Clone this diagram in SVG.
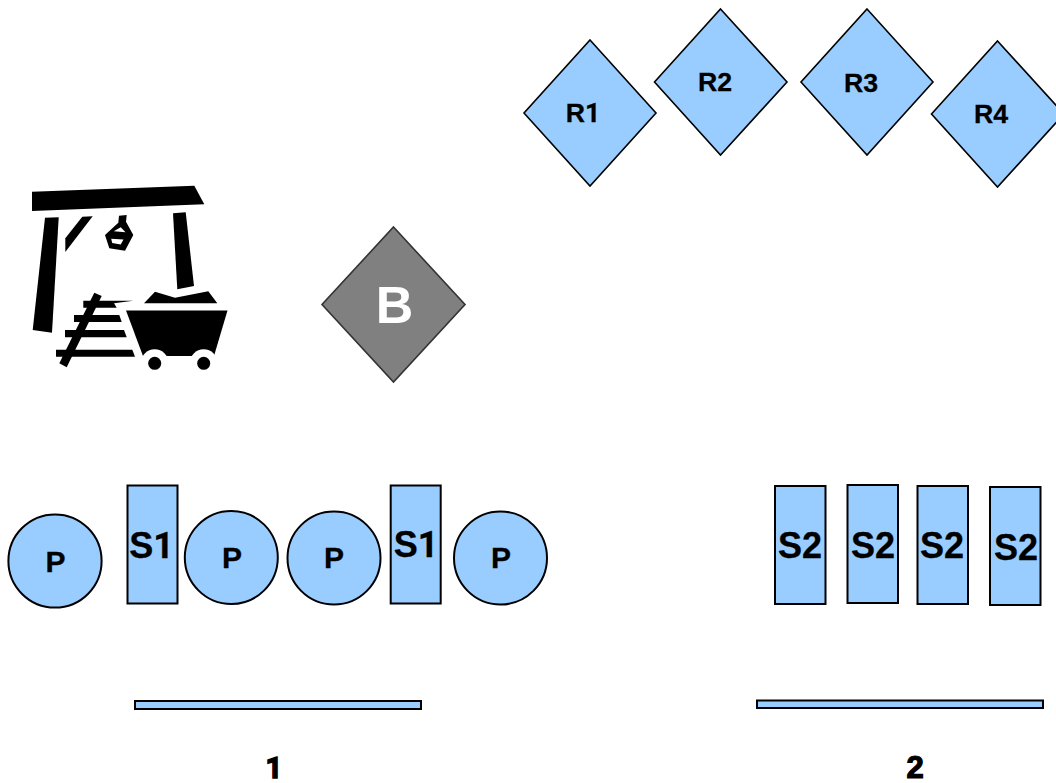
<svg xmlns="http://www.w3.org/2000/svg" width="1056" height="783" viewBox="0 0 1056 783">
<style>
text{font-family:"Liberation Sans",Arial,sans-serif;font-weight:bold;text-anchor:middle;fill:#000;stroke:#000;stroke-width:.3}
tspan.a{font-family:Roboto,"Liberation Sans",sans-serif}
.n{fill:#99ccff;stroke:#000;stroke-width:2}
.d{fill:#99ccff;stroke:#000;stroke-width:1.6}
.r{font-size:26.7px}
.p{font-size:30px}
.s{font-size:36px}
.l{font-size:31px;stroke-width:1.200px}
text.o{font-family:Roboto,"Liberation Sans",sans-serif;font-size:29.500px;stroke-width:1.400px}
.w{font-size:52px;fill:#fff;stroke:none}
</style>
<rect width="1056" height="783" fill="#fff"/>
<g id="R1"><polygon class="d" points="590,40 656,113 590,186 524,113"/><text class="r" x="583" y="122">R<tspan class="a">1</tspan></text></g>
<g id="R2"><polygon class="d" points="720.5,9 787,82 720.5,155 654.5,82"/><text class="r" x="715" y="91">R2</text></g>
<g id="R3"><polygon class="d" points="867,9 933,82 867,155 801,82"/><text class="r" x="861" y="92">R3</text></g>
<g id="R4"><polygon class="d" points="997.500,41 1064,114 997.500,187 931.500,114"/><text class="r" x="991" y="123">R4</text></g>
<g id="mine" fill="#000">
<polygon points="32,191.700 194.300,185.700 204.300,204.300 32,211"/>
<polygon points="45,217.700 58.700,217.300 52,332.700 32.700,330"/>
<polygon points="82.300,216.700 92.700,216.300 65.300,252 65.300,238.300"/>
<polygon points="173,213.300 185.700,212.300 194,286 177.300,289.300"/>
<path fill-rule="evenodd" d="M119 215.700L126.700 215L126 221.700L133.300 235L125 250.700L109.300 248.300L105 235L118.300 222.700ZM113.800 231.200L120.700 227.200L125.500 232.200ZM111.200 238.800L123.500 239.500L120.700 244.500L112.200 243Z"/>
<polygon points="83.300,300.700 133.300,300.700 114,303.300 116.700,307.700 83.300,307.700"/>
<polygon points="74,315 119.300,315 121.700,322 74,322"/>
<polygon points="65,330 124,330 126.700,337.300 65,337.300"/>
<polygon points="56,349.700 132.300,349.700 135,356.700 56,356.700"/>
<polygon points="94.300,292.700 101.700,296 66.700,367.300 59.300,363.300"/>
<polygon points="144,303.300 155,291.700 175,297.700 208.300,291.300 217.300,303.300"/>
<polygon points="126,310.500 227.500,310.500 214,356 143,356"/>
<circle cx="154.700" cy="363.300" r="14" fill="#fff"/>
<circle cx="203.700" cy="363.300" r="14" fill="#fff"/>
<circle cx="154.700" cy="363.300" r="6.500"/>
<circle cx="203.700" cy="363.300" r="6.500"/>
</g>
<g id="B"><polygon points="393.500,227 465,304.500 393.500,382 322,304.500" fill="#808080" stroke="#333" stroke-width="1.600"/><text class="w" x="394.500" y="322.700">B</text></g>
<g id="P1"><circle class="n" cx="55" cy="561" r="46.600"/><text class="p" x="55.500" y="571.700">P</text></g>
<g id="S1a"><rect class="n" x="127.500" y="485.500" width="50" height="118"/><text class="s" x="151.500" y="557.700">S<tspan class="a">1</tspan></text></g>
<g id="P2"><circle class="n" cx="231.300" cy="557.500" r="46.500"/><text class="p" x="232" y="567.700">P</text></g>
<g id="P3"><circle class="n" cx="334" cy="558" r="46.500"/><text class="p" x="334" y="568">P</text></g>
<g id="S1b"><rect class="n" x="390.700" y="485.500" width="50" height="118"/><text class="s" x="416" y="557">S<tspan class="a">1</tspan></text></g>
<g id="P4"><circle class="n" cx="500.500" cy="558" r="46.500"/><text class="p" x="501" y="568">P</text></g>
<g id="S2a"><rect class="n" x="775" y="486" width="50.500" height="118"/><text class="s" x="800" y="558">S2</text></g>
<g id="S2b"><rect class="n" x="847.500" y="485" width="50.500" height="118"/><text class="s" x="873" y="557.700">S2</text></g>
<g id="S2c"><rect class="n" x="917.500" y="486" width="50.500" height="118"/><text class="s" x="942" y="558">S2</text></g>
<g id="S2d"><rect class="n" x="990" y="487" width="50.500" height="118"/><text class="s" x="1016" y="560">S2</text></g>
<g id="bar1"><rect class="n" x="135" y="701" width="286" height="8"/></g>
<g id="bar2"><rect class="n" x="757" y="700.500" width="286" height="7.500"/></g>
<g id="label1"><text class="o" x="274" y="777.500">1</text></g>
<g id="label2"><text class="l" x="915" y="778">2</text></g>
</svg>
